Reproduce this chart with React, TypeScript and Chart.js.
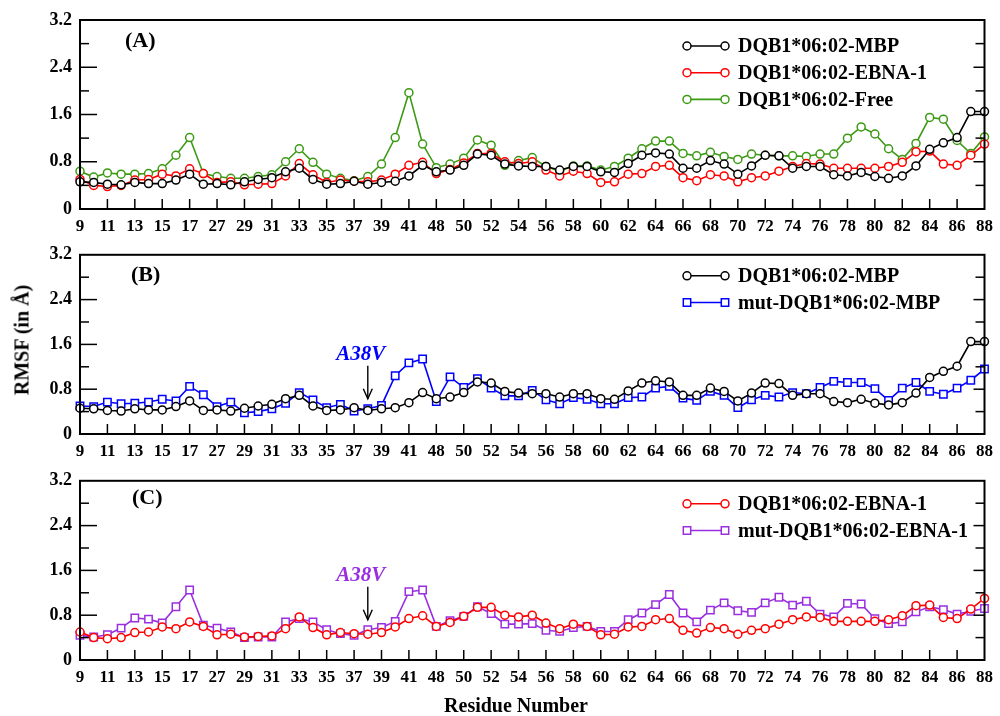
import React, { useEffect, useRef } from "react";
import { Chart, registerables } from "chart.js";

Chart.register(...registerables);

// Residue numbers along the x axis; every second one carries a label.
const residues = [
  "9", "10", "11", "12", "13", "14", "15", "16", "17", "26",
  "27", "28", "29", "30", "31", "32", "33", "34", "35", "36",
  "37", "38", "39", "40", "41", "47", "48", "49", "50", "51",
  "52", "53", "54", "55", "56", "57", "58", "59", "60", "61",
  "62", "63", "64", "65", "66", "67", "68", "69", "70", "71",
  "72", "73", "74", "75", "76", "77", "78", "79", "80", "81",
  "82", "83", "84", "85", "86", "87", "88",
];

// RMSF values (Å) per residue
const mbp = [
  0.46, 0.45, 0.42, 0.41, 0.45, 0.43, 0.43, 0.49, 0.59, 0.42,
  0.43, 0.41, 0.46, 0.50, 0.53, 0.63, 0.69, 0.50, 0.42, 0.43,
  0.47, 0.42, 0.45, 0.47, 0.56, 0.74, 0.63, 0.66, 0.74, 0.93,
  0.91, 0.76, 0.73, 0.72, 0.72, 0.66, 0.72, 0.72, 0.63, 0.62,
  0.77, 0.91, 0.95, 0.93, 0.69, 0.69, 0.82, 0.76, 0.59, 0.73,
  0.91, 0.90, 0.69, 0.72, 0.72, 0.58, 0.56, 0.62, 0.55, 0.52,
  0.56, 0.73, 1.01, 1.12, 1.21, 1.65, 1.65,
];

const ebna = [
  0.50, 0.40, 0.38, 0.40, 0.49, 0.50, 0.59, 0.56, 0.68, 0.60,
  0.45, 0.46, 0.41, 0.42, 0.43, 0.56, 0.77, 0.58, 0.45, 0.49,
  0.47, 0.46, 0.49, 0.59, 0.74, 0.79, 0.60, 0.67, 0.78, 0.94,
  0.94, 0.80, 0.77, 0.80, 0.66, 0.56, 0.64, 0.60, 0.45, 0.46,
  0.59, 0.60, 0.72, 0.74, 0.53, 0.48, 0.58, 0.56, 0.46, 0.53,
  0.56, 0.64, 0.72, 0.77, 0.76, 0.69, 0.69, 0.69, 0.69, 0.72,
  0.79, 0.97, 0.98, 0.76, 0.74, 0.91, 1.10,
];

const free = [
  0.64, 0.54, 0.61, 0.59, 0.59, 0.60, 0.68, 0.91, 1.21, 0.60,
  0.55, 0.52, 0.52, 0.55, 0.58, 0.80, 1.02, 0.79, 0.59, 0.52,
  0.48, 0.55, 0.76, 1.21, 1.97, 1.10, 0.70, 0.76, 0.86, 1.17,
  1.08, 0.74, 0.82, 0.87, 0.72, 0.64, 0.73, 0.73, 0.66, 0.72,
  0.86, 1.02, 1.15, 1.15, 0.94, 0.90, 0.96, 0.89, 0.84, 0.93,
  0.91, 0.90, 0.90, 0.89, 0.93, 0.93, 1.20, 1.39, 1.27, 1.02,
  0.84, 1.11, 1.55, 1.52, 1.16, 0.94, 1.22,
];

const mutMbp = [
  0.50, 0.49, 0.57, 0.54, 0.55, 0.57, 0.62, 0.59, 0.85, 0.70,
  0.49, 0.57, 0.38, 0.40, 0.45, 0.55, 0.74, 0.61, 0.47, 0.53,
  0.41, 0.45, 0.51, 1.04, 1.27, 1.34, 0.58, 1.02, 0.83, 0.99,
  0.82, 0.68, 0.68, 0.78, 0.61, 0.54, 0.65, 0.62, 0.54, 0.54,
  0.65, 0.66, 0.82, 0.85, 0.64, 0.60, 0.76, 0.69, 0.47, 0.61,
  0.69, 0.66, 0.74, 0.72, 0.83, 0.94, 0.92, 0.92, 0.81, 0.60,
  0.82, 0.92, 0.76, 0.71, 0.82, 0.96, 1.16,
];

const mutEbna = [
  0.44, 0.41, 0.45, 0.57, 0.75, 0.73, 0.66, 0.95, 1.25, 0.62,
  0.57, 0.50, 0.40, 0.41, 0.41, 0.68, 0.74, 0.68, 0.54, 0.47,
  0.44, 0.54, 0.58, 0.69, 1.22, 1.25, 0.60, 0.70, 0.78, 0.95,
  0.83, 0.64, 0.64, 0.65, 0.53, 0.51, 0.58, 0.60, 0.51, 0.51,
  0.72, 0.84, 0.99, 1.17, 0.84, 0.68, 0.89, 1.02, 0.88, 0.85,
  1.02, 1.12, 0.98, 1.05, 0.82, 0.77, 1.01, 1.00, 0.74, 0.65,
  0.68, 0.86, 0.95, 0.90, 0.82, 0.87, 0.92,
];

const yMax = 3.2;
const yMajorStep = 0.8;
const yMinorStep = 0.4;
const mutationIndex = residues.indexOf("38");
const mutationLabel = "A38V";

const SERIF = "'Liberation Serif', 'Times New Roman', serif";
const BLACK = "#000000";
const RED = "#ff0000";
const GREEN = "#3c9a14";
const BLUE = "#0000ff";
const PURPLE = "#9a2fe0";

type Series = { label: string; data: number[]; color: string; marker: "circle" | "rect" };

const sMbp: Series = { label: "DQB1*06:02-MBP", data: mbp, color: BLACK, marker: "circle" };
const sEbna: Series = { label: "DQB1*06:02-EBNA-1", data: ebna, color: RED, marker: "circle" };
const sFree: Series = { label: "DQB1*06:02-Free", data: free, color: GREEN, marker: "circle" };
const sMutMbp: Series = { label: "mut-DQB1*06:02-MBP", data: mutMbp, color: BLUE, marker: "rect" };
const sMutEbna: Series = { label: "mut-DQB1*06:02-EBNA-1", data: mutEbna, color: PURPLE, marker: "rect" };

type Panel = {
  id: string;
  letter: string;
  top: number;
  height: number;
  padTop: number;
  plotH: number;
  series: Series[];
  letterX: number;
  letterDy: number;
  legendDy: number;
  note: { color: string } | null;
};

const panels: Panel[] = [
  { id: "A", letter: "(A)", top: 0, height: 236, padTop: 20, plotH: 189, series: [sMbp, sEbna, sFree], letterX: 125, letterDy: 21, legendDy: 26, note: null },
  { id: "B", letter: "(B)", top: 236, height: 226, padTop: 10, plotH: 188, series: [sMbp, sMutMbp], letterX: 131, letterDy: 21, legendDy: 21, note: { color: BLUE } },
  { id: "C", letter: "(C)", top: 462, height: 232, padTop: 10, plotH: 188, series: [sEbna, sMutEbna], letterX: 132, letterDy: 18, legendDy: 23, note: { color: PURPLE } },
];

function drawMarker(ctx: CanvasRenderingContext2D, kind: string, x: number, y: number, color: string) {
  ctx.beginPath();
  if (kind === "rect") ctx.rect(x - 3.7, y - 3.7, 7.4, 7.4);
  else ctx.arc(x, y, 4, 0, Math.PI * 2);
  ctx.fillStyle = "#ffffff";
  ctx.fill();
  ctx.strokeStyle = color;
  ctx.lineWidth = 1.5;
  ctx.stroke();
}

function seg(ctx: CanvasRenderingContext2D, x1: number, y1: number, x2: number, y2: number) {
  ctx.beginPath();
  ctx.moveTo(x1, y1);
  ctx.lineTo(x2, y2);
  ctx.stroke();
}

function decorPlugin(p: Panel) {
  return {
    id: "decor" + p.id,
    afterDraw(chart: any) {
      const { ctx, chartArea: a, scales } = chart;
      ctx.save();

      // frame
      ctx.strokeStyle = BLACK;
      ctx.lineWidth = 2;
      ctx.strokeRect(a.left, a.top, a.right - a.left, a.bottom - a.top);

      // inward tick marks on the left and right sides
      ctx.lineWidth = 1.5;
      const nMinor = Math.round(yMax / yMinorStep);
      for (let k = 1; k < nMinor; k++) {
        const v = k * yMinorStep;
        const y = scales.y.getPixelForValue(v);
        const major = Math.abs(v / yMajorStep - Math.round(v / yMajorStep)) < 1e-6;
        seg(ctx, a.left, y, a.left + (major ? 17 : 9), y);
        seg(ctx, a.right, y, a.right - (major ? 11 : 9), y);
      }
      // inward tick marks at the labelled residues
      for (let i = 2; i < residues.length - 1; i += 2) {
        const x = scales.x.getPixelForValue(i);
        seg(ctx, x, a.bottom, x, a.bottom - 10);
      }

      // panel letter
      ctx.fillStyle = BLACK;
      ctx.font = `bold 22px ${SERIF}`;
      ctx.textAlign = "left";
      ctx.textBaseline = "middle";
      ctx.fillText(p.letter, p.letterX, a.top + p.letterDy);

      // legend
      ctx.font = `bold 20px ${SERIF}`;
      p.series.forEach((s, k) => {
        const y = a.top + p.legendDy + k * 26.7;
        ctx.strokeStyle = s.color;
        ctx.lineWidth = 1.6;
        seg(ctx, 687, y, 725, y);
        drawMarker(ctx, s.marker, 687, y, s.color);
        drawMarker(ctx, s.marker, 725, y, s.color);
        ctx.fillStyle = BLACK;
        ctx.textAlign = "left";
        ctx.textBaseline = "middle";
        ctx.fillText(s.label, 738, y + 1);
      });

      // mutation site marker
      if (p.note) {
        const x = scales.x.getPixelForValue(mutationIndex);
        const yPt = Math.min(...p.series.map((s) => scales.y.getPixelForValue(s.data[mutationIndex])));
        const tip = yPt - 10;
        const tail = tip - 33;
        ctx.strokeStyle = BLACK;
        ctx.lineWidth = 1.4;
        seg(ctx, x, tail, x, tip);
        ctx.beginPath();
        ctx.moveTo(x - 4.5, tip - 10);
        ctx.lineTo(x, tip);
        ctx.lineTo(x + 4.5, tip - 10);
        ctx.stroke();
        ctx.fillStyle = p.note.color;
        ctx.font = `italic bold 21px ${SERIF}`;
        ctx.textAlign = "center";
        ctx.textBaseline = "alphabetic";
        ctx.fillText(mutationLabel, x - 7, tail - 6);
      }
      ctx.restore();
    },
  };
}

function PanelChart({ p }: { p: Panel }) {
  const ref = useRef<HTMLCanvasElement | null>(null);
  useEffect(() => {
    if (!ref.current) return;
    const xFont = { family: SERIF, size: 17, weight: "bold" as const };
    const yFont = { family: SERIF, size: 18, weight: "bold" as const };
    const chart = new Chart(ref.current, {
      type: "line",
      data: {
        labels: residues,
        datasets: p.series.map((s) => ({
          label: s.label,
          data: s.data,
          borderColor: s.color,
          borderWidth: 1.6,
          pointStyle: s.marker,
          pointRadius: s.marker === "rect" ? 5.2 : 4,
          pointBorderWidth: 1.5,
          pointBorderColor: s.color,
          pointBackgroundColor: "#ffffff",
          tension: 0,
          fill: false,
          clip: false as any,
        })),
      },
      options: {
        responsive: false,
        animation: false,
        events: [],
        layout: { padding: { left: 0, right: 11, top: p.padTop, bottom: 0 } },
        plugins: { legend: { display: false }, tooltip: { enabled: false } },
        scales: {
          x: {
            type: "category",
            offset: false,
            grid: { display: false, drawTicks: false },
            border: { display: false },
            ticks: {
              autoSkip: false,
              maxRotation: 0,
              minRotation: 0,
              padding: 7,
              color: BLACK,
              font: xFont,
              callback: (_v: any, i: number) => (i % 2 === 0 ? residues[i] : ""),
            },
            afterFit: (scale: any) => {
              scale.height = p.height - p.padTop - p.plotH;
            },
          },
          y: {
            min: 0,
            max: yMax,
            grid: { display: false, drawTicks: false },
            border: { display: false },
            ticks: {
              stepSize: yMajorStep,
              padding: 8,
              color: BLACK,
              font: yFont,
              callback: (v: any) => (Number(v) === 0 ? "0" : Number(v).toFixed(1)),
            },
            afterFit: (scale: any) => {
              scale.width = 80;
            },
          },
        },
      },
      plugins: [decorPlugin(p)],
    });
    return () => chart.destroy();
  }, [p]);
  return (
    <canvas
      ref={ref}
      width={1000}
      height={p.height}
      style={{ position: "absolute", left: 0, top: p.top, width: 1000, height: p.height }}
    />
  );
}

export default function App() {
  return (
    <div style={{ position: "absolute", left: 0, top: 0, width: 1000, height: 716, background: "#ffffff", overflow: "hidden" }}>
      {panels.map((p) => (
        <PanelChart key={p.id} p={p} />
      ))}
      <div
        style={{
          position: "absolute",
          left: 22,
          top: 340,
          transform: "translate(-50%, -50%) rotate(-90deg)",
          font: `bold 20px ${SERIF}`,
          whiteSpace: "nowrap",
          color: BLACK,
        }}
      >
        RMSF (in Å)
      </div>
      <div
        style={{
          position: "absolute",
          left: 516,
          top: 705,
          transform: "translate(-50%, -50%)",
          font: `bold 20px ${SERIF}`,
          whiteSpace: "nowrap",
          color: BLACK,
        }}
      >
        Residue Number
      </div>
    </div>
  );
}
